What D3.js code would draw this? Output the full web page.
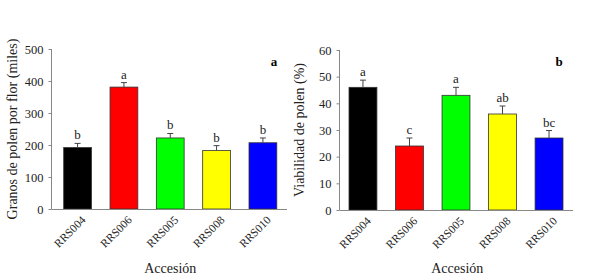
<!DOCTYPE html>
<html>
<head>
<meta charset="utf-8">
<script src="https://cdn.jsdelivr.net/npm/d3@7"></script>
<style>
  body { margin: 0; background: #fff; }
  svg { display: block; }
</style>
</head>
<body>
<svg id="chart"></svg>
<script>
const accessions = ["RRS004", "RRS006", "RRS005", "RRS008", "RRS010"];
const barColors = ["#000000", "#ff0000", "#00ff00", "#ffff00", "#0000ff"];

const grainsMean = [192, 381, 222, 183, 207];
const grainsErr = [13, 14, 14, 15, 15];
const grainsLetters = ["b", "a", "b", "b", "b"];
const grainsTicks = [0, 100, 200, 300, 400, 500];

const viabilityMean = [46, 24, 43, 36, 27];
const viabilityErr = [2.7, 3, 3, 3, 2.8];
const viabilityLetters = ["a", "c", "a", "ab", "bc"];
const viabilityTicks = [0, 10, 20, 30, 40, 50, 60];

const width = 593,
  height = 278;
const serif = "'Liberation Serif', 'Times New Roman', serif";

const svg = d3.select("svg#chart").attr("width", width).attr("height", height);

function panel(opts) {
  const data = accessions.map((name, i) => ({
    name,
    value: opts.mean[i],
    err: opts.err[i],
    letter: opts.letters[i],
    color: barColors[i]
  }));

  const x = d3
    .scaleBand()
    .domain(accessions)
    .range([opts.bandLeft, opts.bandRight])
    .paddingInner(0.4)
    .paddingOuter(0);

  const y = d3.scaleLinear([0, opts.max], [opts.bottom, opts.top]);

  const g = svg.append("g").style("font-family", serif);

  // bars
  g.selectAll("rect")
    .data(data)
    .join("rect")
    .attr("x", d => x(d.name))
    .attr("y", d => y(d.value))
    .attr("width", x.bandwidth())
    .attr("height", d => y(0) - y(d.value))
    .attr("fill", d => d.color)
    .attr("stroke", "#333")
    .attr("stroke-width", 0.8);

  // error bars, upper half only
  const eb = g.selectAll("g.err").data(data).join("g").attr("class", "err");
  eb.append("line")
    .attr("x1", d => x(d.name) + x.bandwidth() / 2)
    .attr("x2", d => x(d.name) + x.bandwidth() / 2)
    .attr("y1", d => y(d.value))
    .attr("y2", d => y(d.value + d.err))
    .attr("stroke", "#444")
    .attr("stroke-width", 1);
  eb.append("line")
    .attr("x1", d => x(d.name) + x.bandwidth() / 2 - 3)
    .attr("x2", d => x(d.name) + x.bandwidth() / 2 + 3)
    .attr("y1", d => y(d.value + d.err))
    .attr("y2", d => y(d.value + d.err))
    .attr("stroke", "#444")
    .attr("stroke-width", 1);

  // significance letters
  g.selectAll("text.letter")
    .data(data)
    .join("text")
    .attr("class", "letter")
    .attr("x", d => x(d.name) + x.bandwidth() / 2)
    .attr("y", d => y(d.value + d.err) - 4)
    .attr("text-anchor", "middle")
    .style("font-family", serif)
    .style("font-size", "13px")
    .attr("fill", "#222")
    .text(d => d.letter);

  // y axis
  const yAxis = d3.axisLeft(y).tickValues(opts.ticks).tickSize(3).tickPadding(5);
  g.append("g")
    .attr("transform", `translate(${opts.left}, 0)`)
    .call(yAxis)
    .call(a => a.select(".domain").attr("stroke", "#888").attr("d", `M-0,${opts.bottom}V${opts.top}`))
    .call(a => a.selectAll(".tick line").attr("stroke", "#888"))
    .call(a =>
      a.selectAll(".tick text")
        .style("font-family", serif)
        .style("font-size", "12.5px")
        .attr("fill", "#222")
    );

  // x baseline
  g.append("line")
    .attr("x1", opts.left)
    .attr("x2", opts.right)
    .attr("y1", opts.bottom + 0.5)
    .attr("y2", opts.bottom + 0.5)
    .attr("stroke", "#888");

  // category labels
  g.selectAll("text.cat")
    .data(data)
    .join("text")
    .attr("class", "cat")
    .attr(
      "transform",
      d => `translate(${x(d.name) + x.bandwidth() / 2 + 3}, ${opts.bottom + 6}) rotate(-45)`
    )
    .attr("text-anchor", "end")
    .attr("dy", "0.7em")
    .style("font-family", serif)
    .style("font-size", "11.5px")
    .attr("fill", "#222")
    .text(d => d.name);

  // axis titles
  g.append("text")
    .attr("transform", `translate(${opts.titleX}, ${(opts.top + opts.bottom) / 2}) rotate(-90)`)
    .attr("text-anchor", "middle")
    .style("font-family", serif)
    .style("font-size", "14px")
    .attr("fill", "#222")
    .text(opts.title);

  g.append("text")
    .attr("x", (opts.left + opts.right) / 2 + 1)
    .attr("y", 273)
    .attr("text-anchor", "middle")
    .style("font-family", serif)
    .style("font-size", "14px")
    .attr("fill", "#222")
    .text("Accesión");

  g.append("text")
    .attr("x", opts.tagX)
    .attr("y", 66)
    .attr("text-anchor", "middle")
    .style("font-family", serif)
    .style("font-size", "13px")
    .attr("font-weight", "bold")
    .text(opts.tag);
}

panel({
  mean: grainsMean,
  err: grainsErr,
  letters: grainsLetters,
  ticks: grainsTicks,
  max: 500,
  left: 51.5,
  right: 287,
  bandLeft: 63.7,
  bandRight: 276.8,
  top: 49,
  bottom: 209,
  titleX: 17,
  title: "Granos de polen por flor (miles)",
  tag: "a",
  tagX: 274
});

panel({
  mean: viabilityMean,
  err: viabilityErr,
  letters: viabilityLetters,
  ticks: viabilityTicks,
  max: 60,
  left: 339.5,
  right: 573,
  bandLeft: 349,
  bandRight: 563,
  top: 50,
  bottom: 210,
  titleX: 304,
  title: "Viabilidad de polen (%)",
  tag: "b",
  tagX: 559
});
</script>
</body>
</html>
